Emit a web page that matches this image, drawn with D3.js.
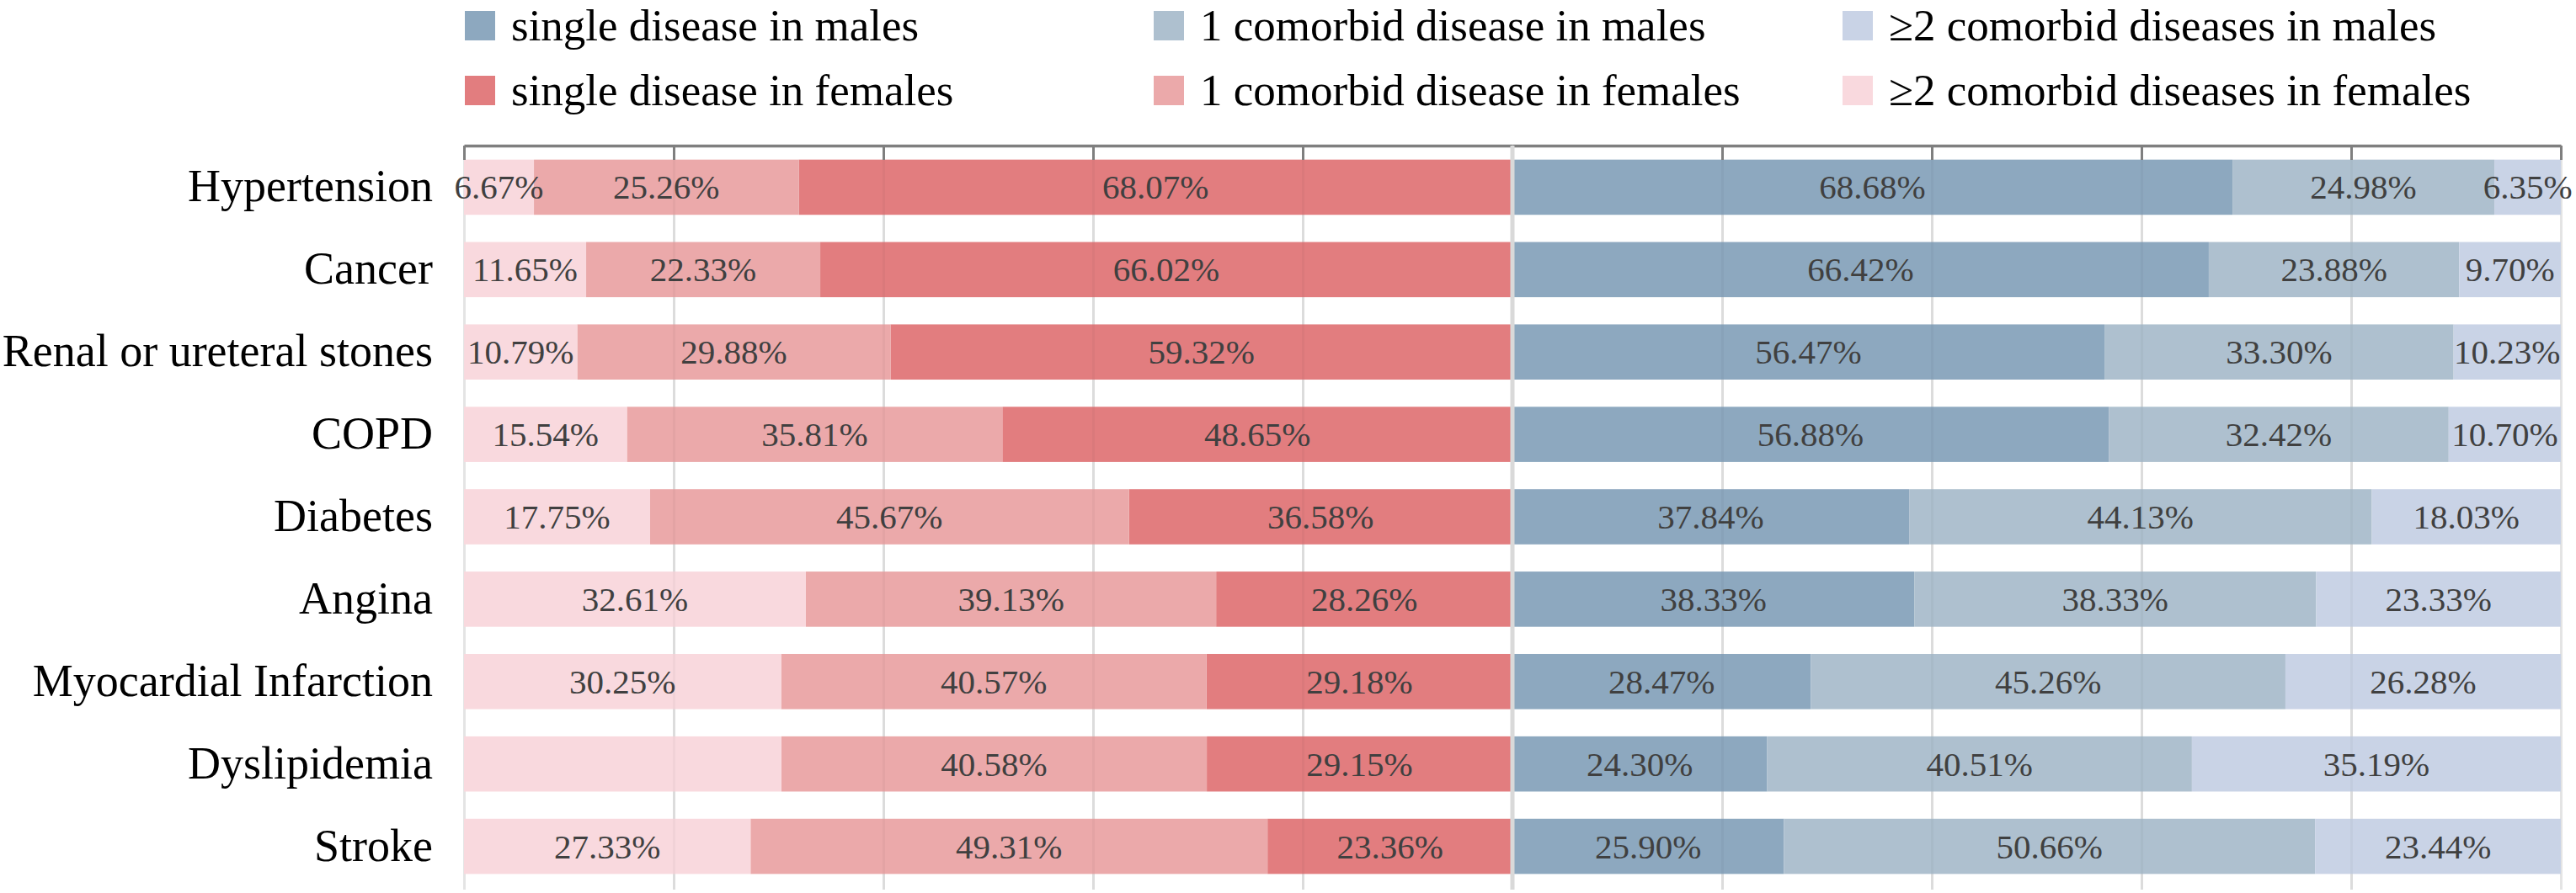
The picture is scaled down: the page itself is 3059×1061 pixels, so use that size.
<!DOCTYPE html>
<html>
<head>
<meta charset="utf-8">
<script src="https://cdn.jsdelivr.net/npm/d3@7"></script>
<style>
  body { margin: 0; background: #fff; }
  svg { display: block; }
</style>
</head>
<body>
<script>
// categories, top to bottom
const categories = ["Hypertension", "Cancer", "Renal or ureteral stones", "COPD", "Diabetes",
                    "Angina", "Myocardial Infarction", "Dyslipidemia", "Stroke"];

// percentages (%), males drawn to the right of the centre line
const maleSingle = [68.68, 66.42, 56.47, 56.88, 37.84, 38.33, 28.47, 24.30, 25.90];
const maleOne    = [24.98, 23.88, 33.30, 32.42, 44.13, 38.33, 45.26, 40.51, 50.66];
const maleMulti  = [6.35, 9.70, 10.23, 10.70, 18.03, 23.33, 26.28, 35.19, 23.44];

// females drawn to the left of the centre line
const femaleSingle = [68.07, 66.02, 59.32, 48.65, 36.58, 28.26, 29.18, 29.15, 23.36];
const femaleOne    = [25.26, 22.33, 29.88, 35.81, 45.67, 39.13, 40.57, 40.58, 49.31];
const femaleMulti  = [6.67, 11.65, 10.79, 15.54, 17.75, 32.61, 30.25, 30.27, 27.33];

// the original shows no label on this segment
const unlabeled = [["Dyslipidemia", "femaleMulti"]];

const tickValues = [0, 20, 40, 60, 80, 100];

const legendItems = [
  { key: "maleSingle",   label: "single disease in males" },
  { key: "maleOne",      label: "1 comorbid disease in males" },
  { key: "maleMulti",    label: "\u22652 comorbid diseases in males" },
  { key: "femaleSingle", label: "single disease in females" },
  { key: "femaleOne",    label: "1 comorbid disease in females" },
  { key: "femaleMulti",  label: "\u22652 comorbid diseases in females" }
];

const colors = {
  maleSingle: "#8da8bf", maleOne: "#aec0cf", maleMulti: "#c9d3e6",
  femaleSingle: "#e27d7f", femaleOne: "#eba9aa", femaleMulti: "#f9d9de"
};

const W = 3059, H = 1061;
const plotLeft = 551, plotCenter = 1796, plotRight = 3041;
const plotTop = 173, plotBottom = 1057;
const serif = "'Liberation Serif', 'Times New Roman', serif";

// one object per category so d3.stack can work on it
const rows = categories.map((c, i) => ({
  category: c,
  maleSingle: maleSingle[i], maleOne: maleOne[i], maleMulti: maleMulti[i],
  femaleSingle: femaleSingle[i], femaleOne: femaleOne[i], femaleMulti: femaleMulti[i]
}));

const svg = d3.select("body").append("svg")
  .attr("xmlns", "http://www.w3.org/2000/svg")
  .attr("width", W)
  .attr("height", H);

const xFemale = d3.scaleLinear().domain([0, 100]).range([plotCenter, plotLeft]);
const xMale = d3.scaleLinear().domain([0, 100]).range([plotCenter, plotRight]);
const y = d3.scaleBand().domain(categories).range([plotTop, 1055])
  .paddingInner(0.33).paddingOuter(0.17);

// light grid lines first so bars sit on top
[xFemale, xMale].forEach(x => {
  const g = svg.append("g").attr("transform", `translate(0,${plotTop})`)
    .call(d3.axisBottom(x).tickValues(tickValues).tickSize(plotBottom - plotTop).tickFormat(""));
  g.select(".domain").remove();
  g.selectAll(".tick line").attr("stroke", "#e4e4e4").attr("stroke-width", 3);
});

const femaleStack = d3.stack().keys(["femaleSingle", "femaleOne", "femaleMulti"])(rows);
const maleStack = d3.stack().keys(["maleSingle", "maleOne", "maleMulti"])(rows);

function drawSide(stack, x) {
  const layers = svg.append("g").selectAll("g")
    .data(stack)
    .enter().append("g")
    .attr("fill", d => colors[d.key]);

  layers.selectAll("rect")
    .data(d => d.map(s => ({ s, key: d.key })))
    .enter().append("rect")
    .attr("x", d => Math.min(x(d.s[0]), x(d.s[1])))
    .attr("width", d => Math.abs(x(d.s[1]) - x(d.s[0])))
    .attr("y", d => y(d.s.data.category))
    .attr("height", y.bandwidth());

  return layers;
}

const femaleLayers = drawSide(femaleStack, xFemale);
const maleLayers = drawSide(maleStack, xMale);

// faint grid over the bars, as in the original
[xFemale, xMale].forEach(x => {
  const g = svg.append("g").attr("transform", `translate(0,${plotTop})`)
    .call(d3.axisBottom(x).tickValues(tickValues.slice(1, 5)).tickSize(plotBottom - plotTop).tickFormat(""));
  g.select(".domain").remove();
  g.selectAll(".tick line").attr("stroke", "#000").attr("stroke-opacity", 0.03).attr("stroke-width", 3);
});

// value labels
function isHidden(cat, key) {
  return unlabeled.some(u => u[0] === cat && u[1] === key);
}

[[femaleLayers, xFemale], [maleLayers, xMale]].forEach(([layers, x]) => {
  layers.selectAll("text")
    .data(d => d.map(s => ({ s, key: d.key })).filter(d => !isHidden(d.s.data.category, d.key)))
    .enter().append("text")
    .attr("x", d => (x(d.s[0]) + x(d.s[1])) / 2)
    .attr("y", d => y(d.s.data.category) + y.bandwidth() / 2 + 14)
    .attr("text-anchor", "middle")
    .attr("font-family", serif)
    .attr("font-size", 41)
    .attr("fill", "#404040")
    .text(d => (d.s[1] - d.s[0]).toFixed(2) + "%");
});

// top axis with short ticks pointing down
[xFemale, xMale].forEach(x => {
  const g = svg.append("g").attr("transform", `translate(0,${plotTop})`)
    .call(d3.axisBottom(x).tickValues(tickValues).tickSize(17).tickSizeOuter(0).tickFormat(""));
  g.select(".domain").attr("stroke", "#7f7f7f").attr("stroke-width", 3.5);
  g.selectAll(".tick line").attr("stroke", "#7f7f7f").attr("stroke-width", 3);
});

// centre line
svg.append("line")
  .attr("x1", plotCenter).attr("x2", plotCenter)
  .attr("y1", plotTop).attr("y2", plotBottom)
  .attr("stroke", "#d9d9d9")
  .attr("stroke-width", 5);

// category labels
svg.append("g").selectAll("text")
  .data(categories)
  .enter().append("text")
  .attr("x", 514)
  .attr("y", d => y(d) + y.bandwidth() / 2 + 17)
  .attr("text-anchor", "end")
  .attr("font-family", serif)
  .attr("font-size", 54)
  .attr("fill", "#000")
  .text(d => d);

// legend: males on the first row, females on the second
const legendX = [552, 1370, 2188];
const legendY = [48, 125];
const legend = svg.append("g").selectAll("g")
  .data(legendItems)
  .enter().append("g")
  .attr("transform", (d, i) => `translate(${legendX[i % 3]},${legendY[Math.floor(i / 3)]})`);

legend.append("rect")
  .attr("x", 0).attr("y", -35)
  .attr("width", 36).attr("height", 35)
  .attr("fill", d => colors[d.key]);

legend.append("text")
  .attr("x", 55).attr("y", 0)
  .attr("font-family", serif)
  .attr("font-size", 53)
  .attr("fill", "#000")
  .text(d => d.label);
</script>
</body>
</html>
